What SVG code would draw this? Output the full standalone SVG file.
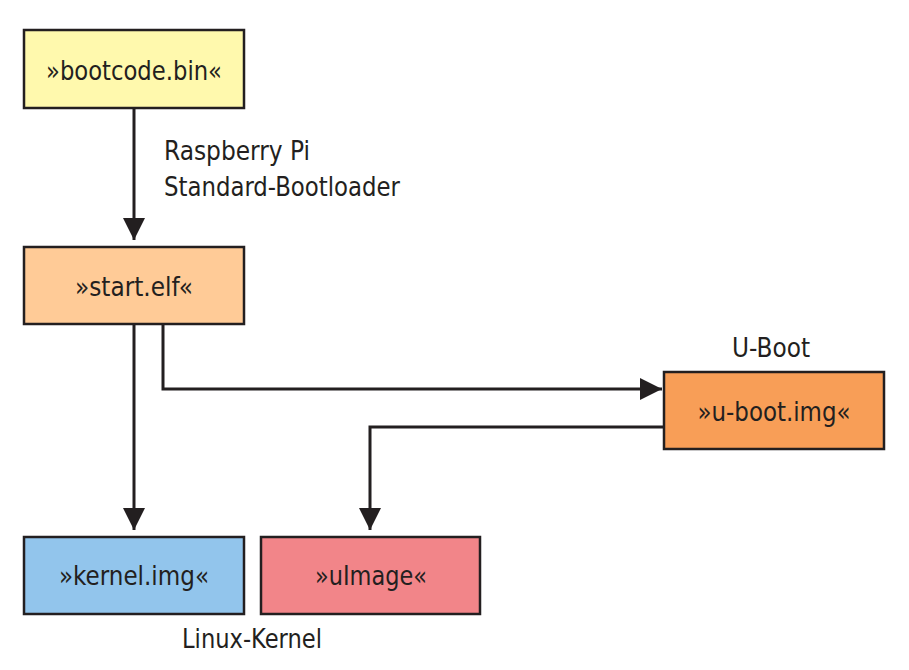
<svg xmlns="http://www.w3.org/2000/svg" width="909" height="670" viewBox="0 0 909 670">
<defs>
<marker id="ah" viewBox="0 0 24 22" refX="22" refY="11" markerWidth="24" markerHeight="22" markerUnits="userSpaceOnUse" orient="auto">
<path d="M0,0 L22,11 L0,22 Z" fill="#231f20"/>
</marker>
<style>
.box{stroke:#231f20;stroke-width:2.5}
.t{font-family:"DejaVu Sans Condensed","Liberation Sans",sans-serif;font-size:27px;fill:#231f20;text-anchor:middle}
.l{font-family:"DejaVu Sans Condensed","Liberation Sans",sans-serif;font-size:26px;fill:#231f20}
.c{fill:none;stroke:#231f20;stroke-width:3}
</style>
</defs>
<rect width="909" height="670" fill="#ffffff"/>
<g id="connectors">
<path class="c" d="M134,108 V240" marker-end="url(#ah)"/>
<path class="c" d="M134,324 V530" marker-end="url(#ah)"/>
<path class="c" d="M163,324 V389 H662" marker-end="url(#ah)"/>
<path class="c" d="M664,427 H370 V530" marker-end="url(#ah)"/>
</g>
<g id="label-bootloader">
<text class="l" x="164" y="160" textLength="146" lengthAdjust="spacingAndGlyphs">Raspberry Pi</text>
<text class="l" x="164" y="196" textLength="236" lengthAdjust="spacingAndGlyphs">Standard-Bootloader</text>
</g>
<g id="node-bootcode">
<rect class="box" x="24" y="30" width="220" height="78" fill="#fff9ad"/>
<text class="t" x="134" y="80" textLength="176" lengthAdjust="spacingAndGlyphs">»bootcode.bin«</text>
</g>
<g id="node-start">
<rect class="box" x="24" y="247" width="220" height="77" fill="#ffcb97"/>
<text class="t" x="134" y="296" textLength="118" lengthAdjust="spacingAndGlyphs">»start.elf«</text>
</g>
<g id="node-uboot">
<rect class="box" x="664" y="372" width="220" height="77" fill="#f89e57"/>
<text class="t" x="774" y="421" textLength="153" lengthAdjust="spacingAndGlyphs">»u-boot.img«</text>
</g>
<g id="label-uboot">
<text class="l" x="771" y="357" text-anchor="middle" textLength="78" lengthAdjust="spacingAndGlyphs">U-Boot</text>
</g>
<g id="node-kernel">
<rect class="box" x="24" y="537" width="220" height="77" fill="#92c5ec"/>
<text class="t" x="134" y="585" textLength="150" lengthAdjust="spacingAndGlyphs">»kernel.img«</text>
</g>
<g id="node-uimage">
<rect class="box" x="261" y="537" width="219" height="77" fill="#f28589"/>
<text class="t" x="371" y="585" textLength="112" lengthAdjust="spacingAndGlyphs">»uImage«</text>
</g>
<g id="label-kernel">
<text class="l" x="182" y="648" textLength="140" lengthAdjust="spacingAndGlyphs">Linux-Kernel</text>
</g>
</svg>
